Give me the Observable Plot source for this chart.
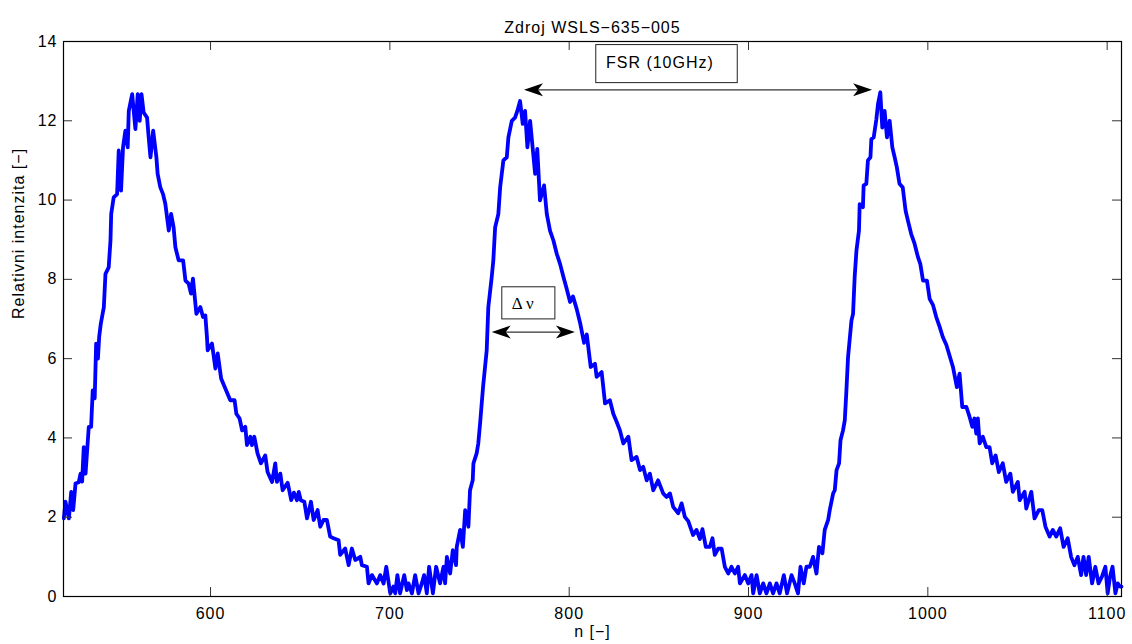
<!DOCTYPE html>
<html><head><meta charset="utf-8">
<script src="https://cdn.jsdelivr.net/npm/d3@7"></script>
<script src="https://cdn.jsdelivr.net/npm/@observablehq/plot@0.6"></script>
<style>
html,body{margin:0;padding:0;background:#fff;}
#chart svg text{letter-spacing:1px;}
#chart svg .serif text{letter-spacing:0;}
</style></head><body><div id="chart"></div>
<script>
const sampleN = [518.2,519.1,521.0,522.3,523.4,524.7,526.5,527.5,528.4,529.3,530.3,531.2,532.1,533.4,534.3,535.4,536.2,537.2,537.9,538.8,540.5,541.4,543.2,544.2,544.6,546.0,547.9,548.8,550.1,551.2,552.5,553.8,554.4,556.3,558.1,559.4,560.5,561.5,562.7,564.6,565.5,566.5,568.0,569.8,570.5,572.0,573.5,574.8,576.7,578.0,579.4,580.4,582.2,584.7,586.0,587.8,589.1,590.2,592.1,594.3,595.8,597.1,598.0,598.4,600.8,602.7,604.0,605.9,608.3,611.0,613.4,614.4,616.2,617.6,619.4,620.3,622.2,623.1,624.4,626.2,628.1,630.5,631.8,634.3,636.1,637.0,638.9,640.2,643.0,645.0,646.5,648.2,649.2,650.3,652.3,653.8,656.0,657.5,659.7,661.2,663.0,664.9,666.7,668.6,671.4,672.3,675.1,677.0,678.8,680.7,683.5,684.4,687.2,688.1,690.0,692.8,694.6,696.5,698.0,700.2,702.0,703.0,704.2,705.7,708.0,709.5,710.4,712.3,714.1,716.0,717.8,719.1,720.6,721.9,724.0,725.8,728.0,729.9,730.8,731.8,733.6,735.1,736.9,737.3,739.2,740.7,742.0,743.8,744.7,746.2,746.6,748.4,749.3,750.3,752.0,754.0,754.9,756.8,757.7,758.7,760.5,761.5,763.3,765.2,766.1,768.0,769.8,771.1,772.6,774.1,775.4,776.7,778.2,781.0,782.2,783.7,786.0,787.5,789.3,791.2,793.1,794.9,796.8,798.6,800.5,802.1,804.2,806.2,808.3,809.8,812.0,814.4,815.3,818.1,820.0,822.7,824.6,826.5,828.3,830.2,833.0,834.8,837.6,839.5,841.3,843.2,845.0,846.9,849.6,852.4,854.3,856.2,858.0,860.8,862.7,864.5,866.4,869.1,871.0,872.9,874.3,876.2,878.4,879.9,881.2,883.1,885.0,886.8,888.7,890.5,892.4,894.2,895.2,898.0,899.8,901.7,902.6,904.5,906.3,908.2,910.0,911.9,913.7,915.6,917.4,919.7,921.5,924.0,925.8,927.6,929.0,930.8,932.3,934.2,936.0,937.9,939.3,941.2,942.5,944.4,945.3,947.2,948.1,949.1,950.5,951.3,952.7,953.7,954.6,955.5,957.4,958.3,959.2,960.2,961.6,962.0,963.8,964.2,965.7,966.6,968.0,968.5,969.8,971.3,972.2,973.5,974.6,975.9,977.2,978.7,980.2,981.5,982.7,984.2,986.0,987.6,988.9,990.7,992.6,994.5,995.8,997.3,999.5,1001.0,1002.9,1004.7,1006.6,1008.4,1010.3,1012.1,1014.0,1016.2,1017.7,1019.2,1021.5,1023.3,1024.8,1026.0,1027.0,1027.9,1028.9,1030.7,1032.6,1034.4,1035.9,1037.8,1039.6,1041.8,1043.7,1046.0,1047.4,1050.2,1051.2,1054.0,1054.9,1057.7,1059.5,1061.9,1063.8,1065.6,1067.9,1069.7,1071.6,1073.8,1075.7,1078.0,1079.9,1081.7,1083.6,1085.5,1086.8,1088.3,1089.7,1091.6,1093.4,1095.2,1097.1,1099.0,1100.3,1101.6,1103.0,1104.6,1105.9,1107.2,1108.0];
const intensity = [1.97,2.39,1.97,2.64,2.18,2.85,2.88,3.10,2.90,3.77,3.10,3.70,4.28,4.28,5.20,5.00,6.38,6.00,6.55,6.88,7.30,8.14,8.30,8.98,9.65,10.07,10.15,11.25,10.24,11.33,11.75,11.33,12.25,12.67,11.79,12.67,12.00,12.67,12.21,12.08,11.58,11.08,11.75,11.08,10.66,10.32,10.15,9.90,9.23,9.65,9.31,8.81,8.48,8.48,7.97,7.89,7.64,8.02,7.13,7.30,7.05,7.09,6.54,6.21,6.38,5.75,6.13,5.50,5.24,4.95,4.95,4.61,4.49,4.19,4.28,3.82,4.03,3.82,4.03,3.61,3.36,3.56,3.14,2.89,3.36,2.89,3.10,2.68,2.87,2.43,2.62,2.43,2.64,2.43,2.39,1.97,2.39,1.93,2.18,1.76,1.93,1.93,1.51,1.47,1.42,1.05,1.21,0.79,1.21,0.92,1.00,0.79,0.75,0.33,0.54,0.33,0.54,0.33,0.75,0.08,0.25,0.08,0.54,0.08,0.54,0.16,0.33,0.08,0.54,0.08,0.33,0.54,0.08,0.75,0.08,0.75,0.33,0.75,0.33,1.00,0.58,1.17,0.79,1.25,1.68,1.25,2.18,1.76,2.68,2.93,3.36,3.61,3.86,4.36,5.30,6.21,7.30,8.06,8.48,9.31,9.65,10.32,11.00,11.08,11.58,12.00,12.08,12.25,12.50,11.92,12.25,11.33,12.00,10.66,11.29,9.99,10.37,9.65,9.23,8.98,8.64,8.39,8.06,7.76,7.43,7.57,7.25,6.88,6.40,6.61,5.79,5.87,5.54,5.66,4.87,4.95,4.61,4.40,4.19,3.86,4.03,3.44,3.52,3.19,3.27,2.93,3.10,2.68,2.93,2.60,2.51,2.60,2.26,2.10,2.35,2.01,1.90,1.55,1.68,1.45,1.70,1.25,1.25,1.47,1.05,1.21,1.21,0.75,0.58,0.75,0.58,0.75,0.33,0.54,0.33,0.54,0.08,0.54,0.08,0.33,0.08,0.33,0.08,0.33,0.08,0.54,0.08,0.54,0.33,0.08,0.75,0.33,0.75,0.75,1.00,0.58,1.25,1.09,1.68,1.93,2.18,2.60,2.68,3.19,3.36,3.94,4.19,4.45,5.20,6.04,6.96,7.13,8.06,8.73,9.23,9.90,9.82,10.37,10.41,11.00,11.08,11.54,11.58,12.04,12.42,12.72,11.83,12.25,11.58,12.00,11.33,11.08,10.83,10.41,10.32,9.73,9.48,9.15,8.90,8.56,8.39,7.97,7.97,7.51,7.35,7.05,6.80,6.54,6.35,6.08,5.79,5.28,5.62,4.78,4.78,4.53,4.28,4.49,4.11,4.49,3.86,4.03,3.77,3.77,3.36,3.56,3.14,3.36,2.89,3.10,2.64,2.89,2.43,2.64,2.22,2.64,1.97,2.18,2.18,1.76,1.51,1.68,1.51,1.72,1.25,1.47,1.00,0.79,1.00,0.54,1.00,0.54,1.00,0.33,0.75,0.33,0.50,0.75,0.08,0.50,0.75,0.08,0.33,0.25,0.25];
const xTicks = [600, 700, 800, 900, 1000, 1100];
const yTicks = [0, 2, 4, 6, 8, 10, 12, 14];
const titleText = "Zdroj WSLS\u2212635\u2212005";
const xLabel = "n [\u2212]";
const yLabel = "Relativni intenzita [\u2212]";
const fsrLabel = "FSR (10GHz)";
const dnLabel = "\u0394 \u03bd";
// annotation anchors (data units)
const fsrArrowN = [774.8, 968.9];
const fsrArrowV = [12.78];
const fsrBoxN = [815.1, 894.0];
const fsrBoxV = [12.95, 13.91];
const fsrTextAt = [820.5, 13.46];
const dnArrowN = [756.8, 803.2];
const dnArrowV = [6.67];
const dnBoxN = [762.7, 792.3];
const dnBoxV = [6.99, 7.80];
const dnTextAt = [768.0, 7.39];

const W = 1132, H = 644, mL = 63, mR = 11, mT = 41, mB = 48;
const plotW = W - mL - mR, plotH = H - mT - mB;
const tickLen = 9;

const series = sampleN.map((n, i) => ({n, v: intensity[i]}));
const arrowHead = {draw(ctx) { ctx.moveTo(0, 0); ctx.lineTo(-19, -6.5); ctx.lineTo(-14, 0); ctx.lineTo(-19, 6.5); ctx.closePath(); }};
const shafts = [
  {x1: fsrArrowN[0] + 2, x2: fsrArrowN[1] - 2, y: fsrArrowV[0]},
  {x1: dnArrowN[0] + 2, x2: dnArrowN[1] - 2, y: dnArrowV[0]}
];
const heads = [
  {n: fsrArrowN[0], v: fsrArrowV[0], rot: 180},
  {n: fsrArrowN[1], v: fsrArrowV[0], rot: 0},
  {n: dnArrowN[0], v: dnArrowV[0], rot: 180},
  {n: dnArrowN[1], v: dnArrowV[0], rot: 0}
];
const boxes = [
  {x1: fsrBoxN[0], x2: fsrBoxN[1], y1: fsrBoxV[0], y2: fsrBoxV[1]},
  {x1: dnBoxN[0], x2: dnBoxN[1], y1: dnBoxV[0], y2: dnBoxV[1]}
];

const chart = Plot.plot({
  width: W, height: H,
  marginLeft: mL, marginRight: mR, marginTop: mT, marginBottom: mB,
  style: {fontFamily: "'Liberation Sans', Arial, sans-serif", fontSize: "16px", background: "white", color: "black"},
  x: {domain: [518, 1108], label: null},
  y: {domain: [0, 14], label: null},
  marks: [
    Plot.line(series, {x: "n", y: "v", stroke: "#0000ff", strokeWidth: 3.8, strokeLinejoin: "round"}),
    Plot.link(shafts, {x1: "x1", x2: "x2", y1: "y", y2: "y", stroke: "#333", strokeWidth: 1.2}),
    Plot.dot(heads, {x: "n", y: "v", symbol: arrowHead, rotate: "rot", fill: "black", stroke: "none", r: 5}),
    Plot.rect(boxes, {x1: "x1", x2: "x2", y1: "y1", y2: "y2", fill: "white", stroke: "#222", strokeWidth: 1}),
    Plot.text([fsrLabel], {x: fsrTextAt[0], y: fsrTextAt[1], textAnchor: "start", fontSize: 16}),
    Plot.text([dnLabel], {x: dnTextAt[0], y: dnTextAt[1], textAnchor: "start", fontSize: 17, fontFamily: "'Liberation Serif', 'DejaVu Serif', serif", className: "serif"}),
    Plot.tickY(yTicks, {y: d => d, stroke: "#333", insetRight: plotW - tickLen}),
    Plot.tickY(yTicks, {y: d => d, stroke: "#333", insetLeft: plotW - tickLen}),
    Plot.tickX(xTicks, {x: d => d, stroke: "#333", insetTop: plotH - tickLen}),
    Plot.tickX(xTicks, {x: d => d, stroke: "#333", insetBottom: plotH - tickLen}),
    Plot.frame({stroke: "black", strokeWidth: 1.2}),
    Plot.axisY(yTicks, {tickSize: 0, tickPadding: 6, label: null, fontSize: 16, tickFormat: d => String(d)}),
    Plot.axisX(xTicks, {tickSize: 0, tickPadding: 11, label: null, fontSize: 16, tickFormat: d => String(d)}),
    Plot.text([titleText], {frameAnchor: "top", dy: -19.5, fontSize: 16}),
    Plot.text([xLabel], {frameAnchor: "bottom", dy: 40, fontSize: 16}),
    Plot.text([yLabel], {frameAnchor: "left", dx: -45, rotate: -90, fontSize: 16})
  ]
});
document.getElementById("chart").appendChild(chart);
</script></body></html>
